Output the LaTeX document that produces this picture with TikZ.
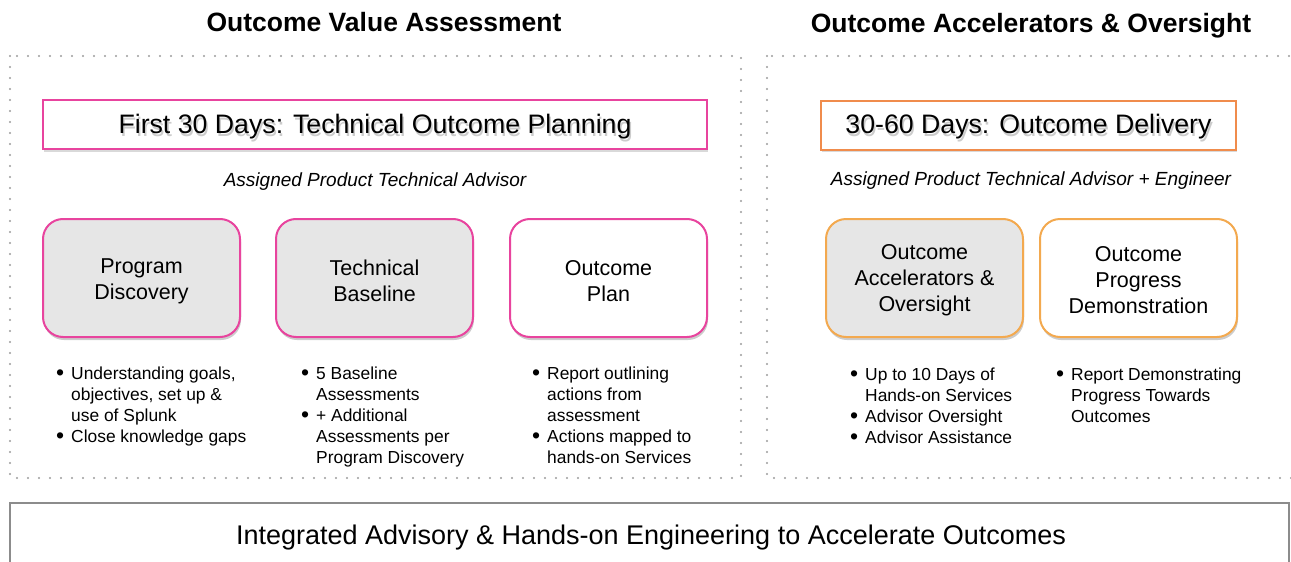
\documentclass[tikz,border=0pt]{standalone}
\usepackage{fontspec}
\setmainfont{Liberation Sans}
\usetikzlibrary{shadows}
\definecolor{pinkc}{HTML}{E8449E}
\definecolor{orgc}{HTML}{F08C4C}
\definecolor{orgl}{HTML}{F3A94F}
\definecolor{boxg}{HTML}{E6E6E6}
\definecolor{dotg}{HTML}{9C9C9C}
\definecolor{frameg}{HTML}{8C8C8C}
\newcommand\bl{\makebox[15pt][l]{\raisebox{-1.2pt}{\fontsize{23}{21}\selectfont\textbullet}}}
\newcommand\ind{\hspace*{15pt}}
\newcommand\fst{\rule{0pt}{14.7pt}}
\begin{document}
\begin{tikzpicture}[x=1pt,y=-1pt,
  title/.style={font=\fontsize{26.5}{30}\selectfont\bfseries, inner sep=0pt},
  hdr/.style={draw, line width=2pt, fill=white, minimum height=49pt, inner sep=0pt,
    font=\fontsize{26.5}{30}\selectfont,
    drop shadow={shadow xshift=1pt, shadow yshift=-2.5pt, opacity=.3}},
  htext/.style={inner sep=0pt, font=\fontsize{26.7}{30}\selectfont},
  hshadow/.style={htext, text=black, opacity=.2},
  sub/.style={font=\fontsize{19}{23}\selectfont\itshape, inner sep=0pt},
  card/.style={draw, line width=2pt, rounded corners=20pt, minimum width=197pt,
    minimum height=118pt, align=center, inner sep=0pt,
    font=\fontsize{21.5}{26}\selectfont,
    drop shadow={shadow xshift=1pt, shadow yshift=-3pt, opacity=.4}},
  cardtext/.style={align=center, inner sep=0pt, font=\fontsize{21.5}{26}\selectfont},
  blist/.style={anchor=north west, inner sep=0pt, align=left,
    font=\fontsize{17.4}{21}\selectfont},
  dotbox/.style={draw=dotg, line width=2.4pt, dash pattern=on 0pt off 11pt, line cap=round},
  frame/.style={draw=frameg, line width=2.5pt}
]
\useasboundingbox (0,0) rectangle (1291,562);
\clip (0,0) rectangle (1291,562);

% dotted panels
\draw[dotbox] (10,56) rectangle (741,478);
\draw[dotbox] (767,56) rectangle (1310,478);

% titles
\node[title] (t1) at (384,22) {Outcome Value Assessment};
\node[title] (t2) at (1031,26) {Outcome Accelerators \& Oversight};

% header boxes
\node[hdr, draw=pinkc, minimum width=664pt] (h1) at (375,124.5) {};
\node[hshadow] at (376.5,129.5) {First 30 Days: Technical Outcome Planning};
\node[htext] (h1t) at (375,127) {First 30 Days: Technical Outcome Planning};

\node[hdr, draw=orgc, minimum width=415pt] (h2) at (1028.5,125) {};
\node[hshadow] at (1030,129.5) {30-60 Days: Outcome Delivery};
\node[htext] (h2t) at (1028.5,127) {30-60 Days: Outcome Delivery};

% subtitles
\node[sub] (s1) at (375,182) {Assigned Product Technical Advisor};
\node[sub] (s2) at (1031,181) {Assigned Product Technical Advisor + Engineer};

% cards
\node[card, draw=pinkc, fill=boxg] (pd) at (141.5,278) {};
\node[cardtext] at (141.5,281) {Program\\Discovery};
\node[card, draw=pinkc, fill=boxg] (tb) at (374.5,278) {};
\node[cardtext] at (374.5,281) {Technical\\Baseline};
\node[card, draw=pinkc, fill=white] (op) at (608.5,278) {};
\node[cardtext] at (608.5,281) {Outcome\\Plan};
\node[card, draw=orgl, fill=boxg] (ao) at (924.5,278) {};
\node[cardtext] at (924.5,280) {Outcome\\Accelerators \&\\Oversight};
\node[card, draw=orgl, fill=white] (opd) at (1138.5,278) {};
\node[cardtext] at (1138.5,280) {Outcome\\Progress\\Demonstration};

% bullet lists
\node[blist] (b1) at (56,364.8) {\fst\bl Understanding goals,\\ \ind objectives, set up \&\\ \ind use of Splunk\\ \bl Close knowledge gaps};
\node[blist] (b2) at (301,364.8) {\fst\bl 5 Baseline\\ \ind Assessments\\ \bl + Additional\\ \ind Assessments per\\ \ind Program Discovery};
\node[blist] (b3) at (532,364.8) {\fst\bl Report outlining\\ \ind actions from\\ \ind assessment\\ \bl Actions mapped to\\ \ind hands-on Services};
\node[blist] (b4) at (850,365.8) {\fst\bl Up to 10 Days of\\ \ind Hands-on Services\\ \bl Advisor Oversight\\ \bl Advisor Assistance};
\node[blist] (b5) at (1056,365.8) {\fst\bl Report Demonstrating\\ \ind Progress Towards\\ \ind Outcomes};

% bottom band
\draw[frame] (10,503) rectangle (1289,600);
\node[inner sep=0pt, font=\fontsize{27}{30}\selectfont] (bt) at (651,538) {Integrated Advisory \& Hands-on Engineering to Accelerate Outcomes};
\end{tikzpicture}
\end{document}
